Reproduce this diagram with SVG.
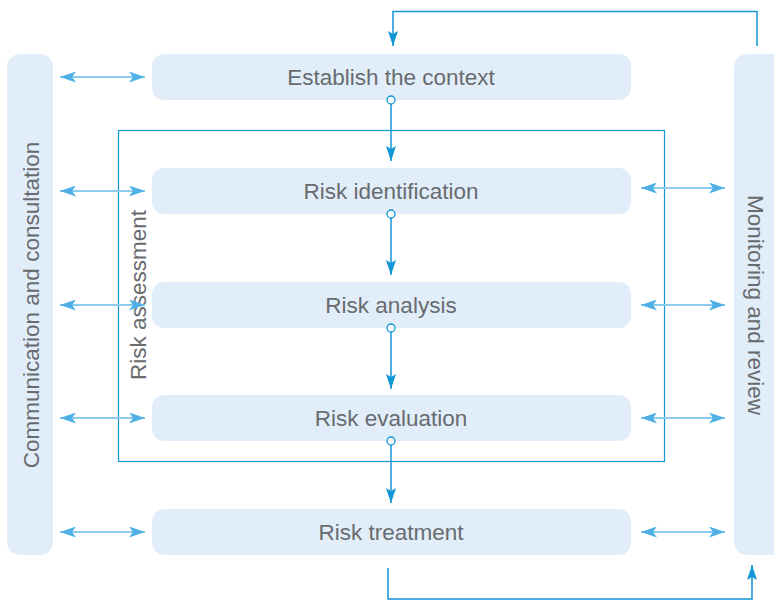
<svg xmlns="http://www.w3.org/2000/svg" width="774" height="600" viewBox="0 0 774 600">
<defs>
<style>
.box{fill:#e1eef9}
.t{font-family:"Liberation Sans",Arial,sans-serif;font-size:22.5px;fill:#686b6f;text-anchor:middle;dominant-baseline:central}
.dark{stroke:#1196d6;stroke-width:1.5;fill:none}
.light{stroke:#8ccbee;stroke-width:2;fill:none}
.dot{fill:#fff;stroke:#1196d6;stroke-width:1.3}
</style>
<marker id="ad2" viewBox="0 0 15 10" refX="15" refY="5" markerWidth="15" markerHeight="10" markerUnits="userSpaceOnUse" orient="auto"><path d="M0,0 L15,5 L0,10 L3,5 z" fill="#1196d6"/></marker>
<marker id="al" viewBox="0 0 16 11" refX="16" refY="5.5" markerWidth="16" markerHeight="11" markerUnits="userSpaceOnUse" orient="auto-start-reverse"><path d="M0,0 L16,5.5 L0,11 L4,5.5 z" fill="#4fb0e6"/></marker>
</defs>
<g id="comm"><rect class="box" x="7" y="54" width="46" height="501" rx="13"/><text class="t" transform="translate(31,305) rotate(-90)">Communication and consultation</text></g>
<g id="monitor"><rect class="box" x="734" y="54" width="52" height="501" rx="13"/><text class="t" transform="translate(755,305) rotate(90)">Monitoring and review</text></g>
<g id="assessment"><rect x="118.5" y="130.5" width="546" height="331" fill="none" stroke="#1196d6" stroke-width="1.2"/><text class="t" transform="translate(138,295) rotate(-90)">Risk assessment</text></g>
<g id="context"><rect class="box" x="152" y="54" width="479" height="46" rx="12"/><text class="t" x="391" y="77">Establish the context</text></g>
<g id="identification"><rect class="box" x="152" y="168" width="479" height="46" rx="12"/><text class="t" x="391" y="191">Risk identification</text></g>
<g id="analysis"><rect class="box" x="152" y="282" width="479" height="46" rx="12"/><text class="t" x="391" y="305">Risk analysis</text></g>
<g id="evaluation"><rect class="box" x="152" y="395" width="479" height="46" rx="12"/><text class="t" x="391" y="418">Risk evaluation</text></g>
<g id="treatment"><rect class="box" x="152" y="509" width="479" height="46" rx="12"/><text class="t" x="391" y="532">Risk treatment</text></g>
<g id="connectors">
<path class="dark" d="M391,104 V161" marker-end="url(#ad2)"/>
<path class="dark" d="M391,218 V275" marker-end="url(#ad2)"/>
<path class="dark" d="M391,332 V389" marker-end="url(#ad2)"/>
<path class="dark" d="M391,445 V503" marker-end="url(#ad2)"/>
<circle class="dot" cx="391" cy="100" r="4"/>
<circle class="dot" cx="391" cy="214" r="4"/>
<circle class="dot" cx="391" cy="328" r="4"/>
<circle class="dot" cx="391" cy="441" r="4"/>
<path class="dark" d="M757,46 V11.5 H393 V46" marker-end="url(#ad2)" stroke-width="1.2"/>
<path class="dark" d="M388,568 V599 H752 V565" marker-end="url(#ad2)" stroke-width="1.2"/>
<path class="light" d="M60,77 H145" marker-start="url(#al)" marker-end="url(#al)"/>
<path class="light" d="M60,191 H145" marker-start="url(#al)" marker-end="url(#al)"/>
<path class="light" d="M60,305 H145" marker-start="url(#al)" marker-end="url(#al)"/>
<path class="light" d="M60,418 H145" marker-start="url(#al)" marker-end="url(#al)"/>
<path class="light" d="M60,532 H145" marker-start="url(#al)" marker-end="url(#al)"/>
<path class="light" d="M641,188 H725" marker-start="url(#al)" marker-end="url(#al)"/>
<path class="light" d="M641,305 H725" marker-start="url(#al)" marker-end="url(#al)"/>
<path class="light" d="M641,418 H725" marker-start="url(#al)" marker-end="url(#al)"/>
<path class="light" d="M641,532 H725" marker-start="url(#al)" marker-end="url(#al)"/>
</g>
</svg>
